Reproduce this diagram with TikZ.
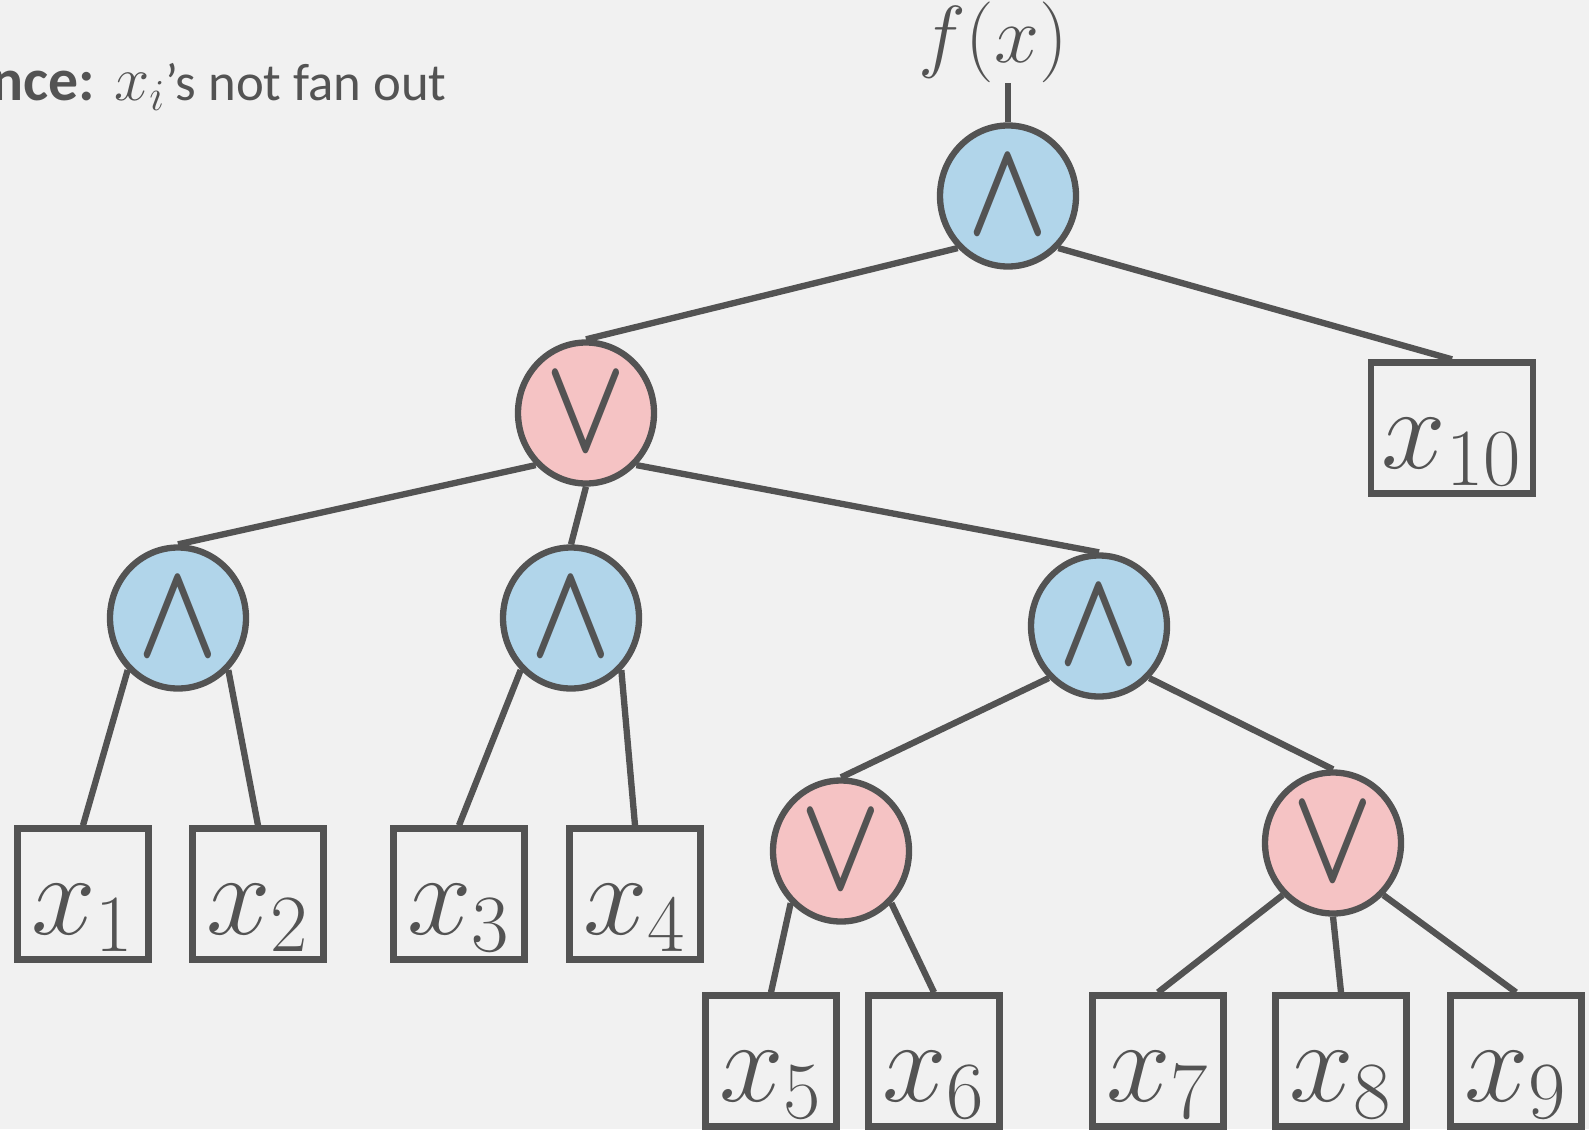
\RequirePackage{fix-cm}
\documentclass[tikz,border=0pt]{standalone}
\usepackage{fontspec}
\newfontfamily\notefont{Carlito}
\usetikzlibrary{shapes,positioning}
\definecolor{inkgray}{RGB}{83,83,83}
\definecolor{andblue}{RGB}{177,213,234}
\definecolor{orpink}{RGB}{245,195,196}
\definecolor{slide}{RGB}{241,241,241}
\newcommand{\andsym}{\scalebox{1}[1.3]{\boldmath$\wedge$}}
\newcommand{\orsym}{\scalebox{1}[1.3]{\boldmath$\vee$}}
\tikzset{
formula/.style={color=inkgray,line width=1.8pt},
gate/.style={ellipse,draw,minimum width=1.36cm,minimum height=1.41cm,
inner sep=0pt,font=\fontsize{30}{30}\selectfont},
andgate/.style={gate,fill=andblue},
orgate/.style={gate,fill=orpink},
var/.style={rectangle,draw,minimum size=1.31cm,inner sep=0pt,
text height=0.8cm,text depth=0pt,font=\fontsize{33}{33}\selectfont},
}

\begin{document}
\begin{tikzpicture}[formula]
\useasboundingbox (0,0) rectangle (15.89,-11.29);
\fill[slide] (0,0) rectangle (15.89,-11.29);

\node[anchor=base west,inner sep=0pt] (note) at (1.11,-1.01)
  {\notefont\fontsize{15}{15}\selectfont{\fontsize{18}{18}\selectfont$x_i$}’s not fan out};
\node[anchor=base east,inner sep=0pt,xshift=-0.13cm] (notehead) at (note.base west)
  {\notefont\fontsize{17}{17}\selectfont\textbf{ence:}};

% gates
\node[andgate] (top) at (10.08,-1.96) {\andsym};
\node[orgate] (or1) at (5.86,-4.13) {\orsym};
\node[andgate] (andL) at (1.78,-6.18) {\andsym};
\node[andgate] (andM) at (5.71,-6.18) {\andsym};
\node[andgate] (andR) at (10.99,-6.26) {\andsym};
\node[orgate] (orL) at (8.41,-8.51) {\orsym};
\node[orgate] (orR) at (13.33,-8.43) {\orsym};

% inputs
\node[var] (x1) at (0.83,-8.94) {$x_1$};
\node[var] (x2) at (2.58,-8.94) {$x_2$};
\node[var] (x3) at (4.59,-8.94) {$x_3$};
\node[var] (x4) at (6.35,-8.94) {$x_4$};
\node[var] (x5) at (7.71,-10.61) {$x_5$};
\node[var] (x6) at (9.34,-10.61) {$x_6$};
\node[var] (x7) at (11.58,-10.61) {$x_7$};
\node[var] (x8) at (13.41,-10.61) {$x_8$};
\node[var] (x9) at (15.16,-10.61) {$x_9$};
\node[var,minimum width=1.62cm] (x10) at (14.52,-4.28) {$x_{10}$};

% output
\coordinate (out) at (10.08,-0.83);
\node[font=\fontsize{23}{23}\selectfont] (fx) at (9.93,-0.42) {$f(x)$};
\draw (top) -- (out);

\draw (top.south west) -- (or1.north);
\draw (top.south east) -- (x10.north);
\draw (or1.south west) -- (andL.north);
\draw (or1.south) -- (andM.north);
\draw (or1.south east) -- (andR.north);
\draw (andL.south west) -- (x1.north);
\draw (andL.south east) -- (x2.north);
\draw (andM.south west) -- (x3.north);
\draw (andM.south east) -- (x4.north);
\draw (andR.south west) -- (orL.north);
\draw (andR.south east) -- (orR.north);
\draw (orL.south west) -- (x5.north);
\draw (orL.south east) -- (x6.north);
\draw (orR.south west) -- (x7.north);
\draw (orR.south) -- (x8.north);
\draw (orR.south east) -- (x9.north);
\end{tikzpicture}
\end{document}
